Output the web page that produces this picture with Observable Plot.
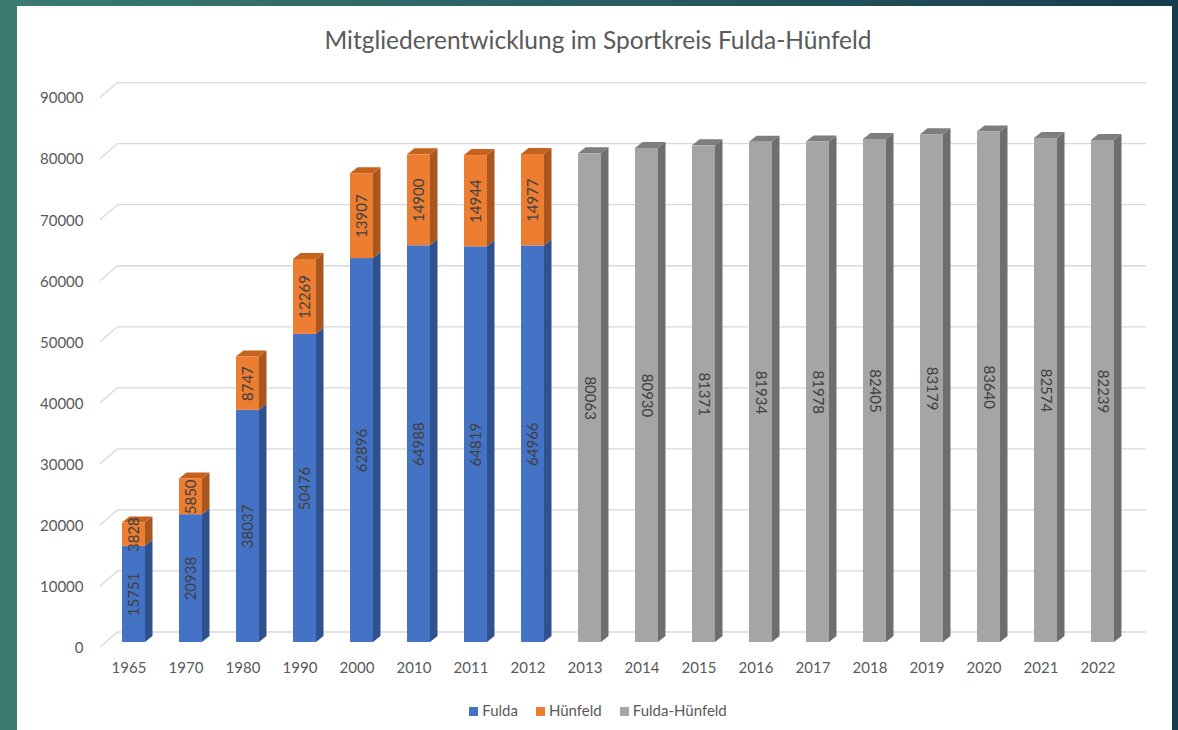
<!DOCTYPE html>
<html>
<head>
<meta charset="utf-8">
<script src="https://cdn.jsdelivr.net/npm/d3@7"></script>
<script src="https://cdn.jsdelivr.net/npm/@observablehq/plot@0.6"></script>
<style>
  html, body { margin: 0; padding: 0; }
  body {
    width: 1178px; height: 730px; overflow: hidden; position: relative;
    background: linear-gradient(90deg, #3b7a71 0%, #2a5e63 50%, #163b4b 100%);
    font-family: Lato, "Open Sans", sans-serif;
  }
  #panel { position: absolute; left: 17px; top: 6px; width: 1155px; height: 730px; background: #fff; }
  #title { position: absolute; left: 0; width: 1162px; top: 19px; text-align: center;
    font-size: 24.5px; color: #595959; font-family: Lato, sans-serif; }
  #chart { position: absolute; left: 0; top: 60px; }
  #legend { position: absolute; left: 0; width: 1162px; top: 695px; text-align: center;
    font-size: 15px; color: #595959; font-family: Lato, sans-serif; }
  #legend span.item { margin: 0 9px; }
  #legend span.sw { display: inline-block; width: 9px; height: 9px; margin-right: 4px; vertical-align: 0px; }
</style>
</head>
<body>
<div id="panel">
  <div id="title">Mitgliederentwicklung im Sportkreis Fulda-Hünfeld</div>
  <div id="chart"></div>
  <div id="legend"></div>
</div>
<script>
// ---- data ----
const years = ["1965","1970","1980","1990","2000","2010","2011","2012","2013","2014","2015","2016","2017","2018","2019","2020","2021","2022"];
const splitYears = ["1965","1970","1980","1990","2000","2010","2011","2012"];
const fulda =    [15751, 20938, 38037, 50476, 62896, 64988, 64819, 64966];
const huenfeld = [3828, 5850, 8747, 12269, 13907, 14900, 14944, 14977];
const combinedYears = ["2013","2014","2015","2016","2017","2018","2019","2020","2021","2022"];
const combined = [80063, 80930, 81371, 81934, 81978, 82405, 83179, 83640, 82574, 82239];
const yTicks = [0, 10000, 20000, 30000, 40000, 50000, 60000, 70000, 80000, 90000];
const seriesNames = ["Fulda", "Hünfeld", "Fulda-Hünfeld"];

// colors: front, side, top
const colors = {
  "Fulda":         {front: "#4472C4", side: "#2F528F", top: "#3A62A8"},
  "Hünfeld":       {front: "#ED7D31", side: "#A9561F", top: "#C5621E"},
  "Fulda-Hünfeld": {front: "#A5A5A5", side: "#6E6E6E", top: "#7E7E7E"}
};

// segments table
const segments = [];
splitYears.forEach((yr, i) => {
  segments.push({year: yr, series: "Fulda", y1: 0, y2: fulda[i], value: fulda[i], top: false});
  segments.push({year: yr, series: "Hünfeld", y1: fulda[i], y2: fulda[i] + huenfeld[i], value: huenfeld[i], top: true});
});
combinedYears.forEach((yr, i) => {
  segments.push({year: yr, series: "Fulda-Hünfeld", y1: 0, y2: combined[i], value: combined[i], top: true});
});

const DX = 7.5, DY = -6;

// 3D faces (side + top) using the plot's scales
function faces(index, scales) {
  const x = scales.x, y = scales.y;
  const bw = x.bandwidth();
  const g = d3.create("svg:g");
  for (const s of segments) {
    const xl = x(s.year), xr = xl + bw;
    const yt = y(s.y2), yb = y(s.y1);
    const c = colors[s.series];
    g.append("polygon")
      .attr("points", [[xr, yt], [xr + DX, yt + DY], [xr + DX, yb + DY], [xr, yb]].map(p => p.join(",")).join(" "))
      .attr("fill", c.side);
    if (s.top) {
      g.append("polygon")
        .attr("points", [[xl, yt], [xr, yt], [xr + DX, yt + DY], [xl + DX, yt + DY]].map(p => p.join(",")).join(" "))
        .attr("fill", c.top);
    }
  }
  return g.node();
}

// slanted floor part of each gridline
function gridSlants(index, scales, values, dims) {
  const y = scales.y;
  const g = d3.create("svg:g");
  const x0 = dims.marginLeft + 12, x1 = dims.marginLeft + 30;
  for (const v of yTicks) {
    g.append("line")
      .attr("x1", x0).attr("y1", y(v) + 5)
      .attr("x2", x1).attr("y2", y(v) - 10.5)
      .attr("stroke", "#d9d9d9").attr("stroke-width", 1.3);
  }
  return g.node();
}

const plot = Plot.plot({
  width: 1155,
  height: 620,
  marginLeft: 71,
  marginRight: 24,
  marginTop: 26.6,
  marginBottom: 44,
  style: {fontFamily: "Lato, 'Open Sans', sans-serif", background: "transparent", overflow: "visible"},
  x: {domain: years, padding: 0.596, axis: null},
  y: {domain: [0, 90000], axis: null},
  marks: [
    Plot.ruleY(yTicks, {y: d => d, stroke: "#d9d9d9", strokeWidth: 1.3, dy: -10.5, insetLeft: 30, insetRight: 2}),
    gridSlants,
    faces,
    Plot.barY(segments, {x: "year", y1: "y1", y2: "y2", fill: d => colors[d.series].front}),
    Plot.text(segments.filter(d => d.series !== "Fulda-Hünfeld"), {
      x: "year", y: d => (d.y1 + d.y2) / 2, text: d => String(d.value),
      rotate: -90, fontSize: 15, fill: "#404040", textAnchor: "middle", lineAnchor: "middle"
    }),
    Plot.text(segments.filter(d => d.series === "Fulda-Hünfeld"), {
      x: "year", y: d => (d.y1 + d.y2) / 2, text: d => String(d.value),
      rotate: 90, fontSize: 15, fill: "#404040", textAnchor: "middle", lineAnchor: "middle"
    }),
    Plot.text(yTicks, {
      y: d => d, text: d => String(d), frameAnchor: "left", dx: -5, dy: 5.5,
      textAnchor: "end", fontSize: 15, fill: "#595959"
    }),
    Plot.text(years, {
      x: d => d, text: d => d, frameAnchor: "bottom", dy: 26, dx: -5,
      textAnchor: "middle", lineAnchor: "middle", fontSize: 15, fill: "#595959"
    })
  ]
});
document.getElementById("chart").appendChild(plot);

// legend
const legend = d3.select("#legend");
seriesNames.forEach(name => {
  const item = legend.append("span").attr("class", "item");
  item.append("span").attr("class", "sw").style("background", colors[name].front);
  item.append("span").text(name);
});
</script>
</body>
</html>
